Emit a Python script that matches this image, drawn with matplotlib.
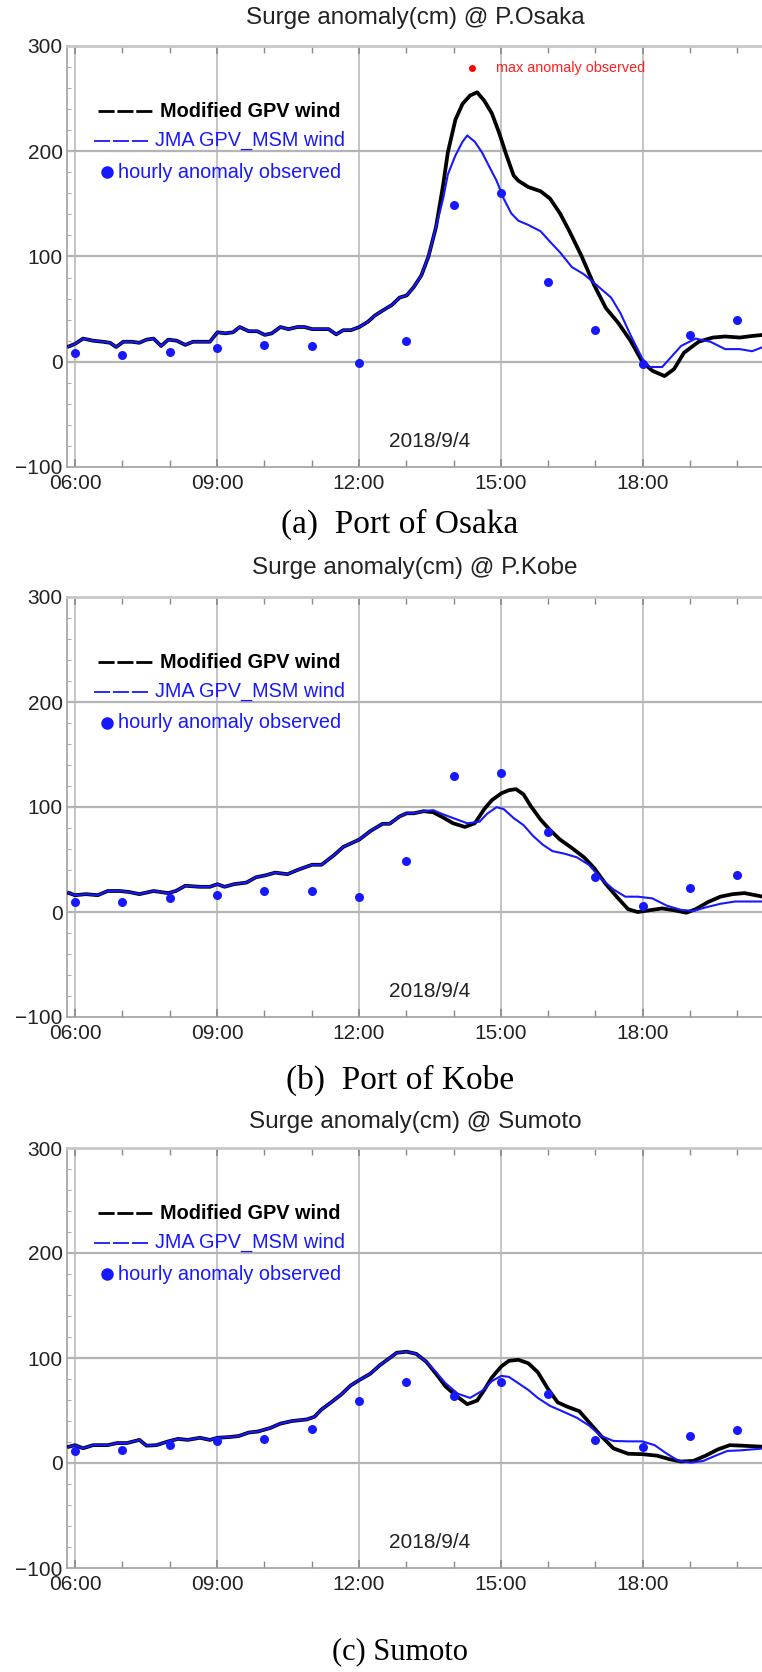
import numpy as np
import matplotlib.pyplot as plt
from matplotlib.ticker import MultipleLocator, FuncFormatter

plt.rcParams['font.family'] = ['Liberation Sans', 'DejaVu Sans']

W, H, DPI = 762, 1672, 100

# hourly observations, 06:00 .. 20:00
OBS_HOURS = list(range(6, 21))

# ——— P.Osaka ———
OSAKA_T_COMMON = [5.87, 6.00, 6.17, 6.38, 6.59, 6.74, 6.87, 7.02, 7.20, 7.36,
                  7.51, 7.66, 7.82, 7.97, 8.15, 8.33, 8.49, 8.64, 8.85, 9.01,
                  9.18, 9.34, 9.48, 9.67, 9.85, 10.01, 10.16, 10.34, 10.51, 10.70,
                  10.85, 11.01, 11.21, 11.36, 11.52, 11.67, 11.83, 12.01, 12.19, 12.34,
                  12.55, 12.70, 12.86, 13.01, 13.16, 13.32, 13.47, 13.63]
OSAKA_V_COMMON = [14.6, 17, 22, 20, 19, 18, 14, 19, 19, 18,
                  21, 22, 15, 21, 20, 16, 19, 19, 19, 28,
                  27, 28, 33, 29, 29, 25.5, 27, 33, 31, 33,
                  33, 31, 31, 31, 26, 30, 30, 33, 38, 44,
                  50, 54, 61, 63, 71, 82, 100, 128]
OSAKA_T_MOD = [13.78, 13.88, 14.04, 14.19, 14.35, 14.50, 14.65, 14.81, 14.96, 15.12,
               15.27, 15.37, 15.58, 15.84, 16.04, 16.25, 16.45, 16.71, 16.97, 17.22,
               17.48, 17.74, 17.99, 18.20, 18.46, 18.66, 18.87, 19.18, 19.48, 19.74,
               20.05, 20.31, 20.54]
OSAKA_V_MOD = [168, 199, 230, 245, 253, 256, 248, 236, 218, 196,
               177, 172, 166, 162, 155, 141, 124, 100, 73, 51,
               37, 20, 0, -8.5, -13.6, -7, 8.5, 19, 23, 24,
               23, 24.5, 25.5]
OSAKA_T_JMA = [13.78, 13.88, 14.04, 14.19, 14.29, 14.45, 14.60, 14.76, 14.91, 15.06,
               15.22, 15.37, 15.58, 15.84, 16.04, 16.25, 16.50, 16.76, 17.02, 17.33,
               17.53, 17.74, 17.99, 18.15, 18.41, 18.61, 18.81, 19.12, 19.43, 19.74,
               20.05, 20.31, 20.54]
OSAKA_V_JMA = [155, 178, 196, 209, 215, 209, 199, 185, 172, 155,
               141, 134, 130, 124, 114, 104, 90, 83, 73, 61,
               46, 25.5, 3, -5, -5, 5, 15, 22, 19, 12,
               12, 10, 14]
OSAKA_OBS = [8.5, 6, 9.5, 13, 16, 14.6, -1, 20, 149, 160.5, 76, 30.6, -1.7, 25, 40]
OSAKA_MAX_T, OSAKA_MAX_V = 14.39, 279

# ——— P.Kobe ———
KOBE_T_COMMON = [5.87, 6.00, 6.23, 6.48, 6.69, 6.95, 7.15, 7.36, 7.66, 7.97,
                 8.13, 8.33, 8.64, 8.85, 9.01, 9.16, 9.36, 9.62, 9.82, 10.03,
                 10.23, 10.49, 10.70, 11.01, 11.21, 11.47, 11.67, 12.01, 12.24, 12.50,
                 12.65, 12.86, 13.01, 13.16, 13.37]
KOBE_V_COMMON = [18, 16, 17, 16, 20, 20, 19, 17, 20, 18,
                 20, 25, 24, 24, 26.5, 24, 26.5, 28, 33, 35,
                 37.5, 36, 40, 45, 45, 54, 62, 69, 77, 84,
                 84, 91, 94, 94, 96]
KOBE_T_MOD = [13.57, 13.78, 13.99, 14.24, 14.45, 14.65, 14.81, 15.01, 15.17, 15.32,
              15.48, 15.63, 15.84, 16.04, 16.25, 16.50, 16.76, 16.97, 17.22, 17.48,
              17.69, 17.89, 18.15, 18.41, 18.66, 18.92, 19.12, 19.38, 19.64, 19.90,
              20.15, 20.54]
KOBE_V_MOD = [95, 90, 84.5, 81, 84.5, 98, 106.5, 113, 116, 117,
              112, 101, 88, 78, 69, 61, 52, 42, 26.5, 13,
              2.7, 0, 1.7, 3.4, 1.7, -0.7, 2.7, 9.5, 14.6, 17,
              18, 14.6]
KOBE_T_JMA = [13.57, 13.78, 13.99, 14.29, 14.55, 14.71, 14.91, 15.06, 15.27, 15.48,
              15.68, 15.89, 16.09, 16.35, 16.61, 16.86, 17.12, 17.38, 17.63, 17.89,
              18.20, 18.51, 18.81, 19.07, 19.33, 19.64, 19.95, 20.54]
KOBE_V_JMA = [97, 93, 89.5, 84.5, 86, 93.6, 99.8, 98, 89.5, 82.7,
              72.5, 64, 58, 55.5, 52, 45, 31.7, 21.5, 14.6, 14.6,
              13, 6, 2, 1, 4.4, 7.8, 10, 10]
KOBE_OBS = [9.5, 9.5, 13, 16.3, 19.7, 19.7, 14.6, 48.7, 130, 132, 76, 33.4, 5.4, 23, 35]

# ——— Sumoto ———
SUMOTO_T_COMMON = [5.87, 6.00, 6.17, 6.38, 6.69, 6.89, 7.10, 7.36, 7.51, 7.72,
                   7.97, 8.18, 8.38, 8.64, 8.85, 9.01, 9.26, 9.46, 9.67, 9.87,
                   10.13, 10.34, 10.59, 10.90, 11.06, 11.21, 11.42, 11.62, 11.83, 12.01,
                   12.24, 12.44, 12.65, 12.80, 13.01, 13.21, 13.42]
SUMOTO_V_COMMON = [15.5, 17, 14, 17, 17, 19, 19, 22, 16.5, 17,
                   20.6, 23, 22, 24, 22, 24, 24.7, 25.7, 29, 30,
                   33.4, 37.5, 40, 41.5, 44, 51, 58, 65, 74, 79,
                   85, 93, 100, 105, 106, 104, 96.6]
SUMOTO_T_MOD = [13.63, 13.83, 14.04, 14.29, 14.50, 14.65, 14.81, 15.01, 15.17, 15.37,
                15.58, 15.78, 15.99, 16.20, 16.40, 16.66, 16.86, 17.12, 17.38, 17.69,
                17.99, 18.30, 18.56, 18.81, 19.07, 19.33, 19.59, 19.84, 20.10, 20.54]
SUMOTO_V_MOD = [85, 73, 64.5, 56, 59.5, 69.6, 81.4, 92, 97.3, 98.3,
                95, 86.5, 71, 57.8, 53.7, 49.3, 39, 25.7, 13.9, 8.8,
                8.4, 7, 3.7, 1.4, 2, 7, 13, 17, 16.5, 15.5]
SUMOTO_T_JMA = [13.63, 13.83, 14.09, 14.35, 14.60, 14.81, 15.01, 15.17, 15.37, 15.58,
                15.78, 16.04, 16.30, 16.61, 16.86, 17.12, 17.38, 17.69, 17.99, 18.25,
                18.51, 18.76, 19.02, 19.28, 19.54, 19.79, 20.05, 20.54]
SUMOTO_V_JMA = [86.5, 76, 66, 62, 68.6, 78, 83, 82, 76, 69.6,
                62, 54.4, 49.3, 43, 35.8, 25.7, 21, 20.6, 20.6, 17,
                8.8, 2, 0.3, 2, 7, 11.5, 12, 13.8]
SUMOTO_OBS = [11.5, 12, 17, 20.6, 23, 32.4, 59.5, 77.4, 63.5, 77.4, 65.5, 22.3, 15.5, 25.7, 31.8]

TITLES = ['Surge anomaly(cm) @ P.Osaka', 'Surge anomaly(cm) @ P.Kobe',
          'Surge anomaly(cm) @ Sumoto']
CAPTIONS = ['(a)  Port of Osaka', '(b)  Port of Kobe', '(c) Sumoto']
DATE_LABEL = '2018/9/4'

# panel boxes in pixels: (top, bottom) of the plotting area, plus title / caption rows
PANELS = [
    dict(top=46, bottom=467, title_y=18, cap_y=524),
    dict(top=597, bottom=1017, title_y=568, cap_y=1080),
    dict(top=1148, bottom=1568, title_y=1122, cap_y=1652),
]
AX_LEFT = 67
XLIM = (5.83, 20.52)
YLIM = (-100, 300)

BLUE = '#1818ff'
GRID = '#b4b4b4'


def hhmm(x, pos):
    return f"{int(round(x)):02d}:00"


def draw_panel(ax, t_common, v_common, t_mod, v_mod, t_jma, v_jma, obs):
    ax.set_xlim(*XLIM)
    ax.set_ylim(*YLIM)

    # grid
    for v in (0, 100, 200):
        ax.axhline(v, color=GRID, lw=1.6, zorder=1)
    for h in (6, 9, 12, 15, 18):
        ax.axvline(h, color=GRID, lw=1.1, zorder=1)

    # model lines share the same curve before the peak
    ax.plot(t_common + t_mod, v_common + v_mod, color='black', lw=2.7,
            solid_joinstyle='round', zorder=3)
    ax.plot(t_common + t_jma, v_common + v_jma, color=BLUE, lw=1.5,
            solid_joinstyle='round', zorder=4)
    ax.plot(OBS_HOURS, obs, 'o', color=BLUE, ms=6.5, mec='none', zorder=5)

    # hand-made legend, like the original
    tr = ax.transAxes
    ax.plot([0.045, 0.124], [0.845, 0.845], color='black', lw=2,
            dashes=(5.8, 1.0), transform=tr, zorder=6)
    ax.text(0.134, 0.845, 'Modified GPV wind', transform=tr, fontsize=14.3,
            fontweight='bold', va='center', ha='left', color='black')
    ax.plot([0.039, 0.120], [0.775, 0.775], color=BLUE, lw=1.3,
            dashes=(8.9, 1.6), transform=tr, zorder=6)
    ax.text(0.127, 0.775, 'JMA GPV_MSM wind', transform=tr, fontsize=14.3,
            va='center', ha='left', color=BLUE)
    ax.plot([0.058], [0.700], 'o', color=BLUE, ms=9, mec='none', transform=tr)
    ax.text(0.073, 0.700, 'hourly anomaly observed', transform=tr, fontsize=14.3,
            va='center', ha='left', color=BLUE)

    ax.text(13.49, -76, DATE_LABEL, fontsize=15, ha='center', va='center',
            color='#222222')

    # axes styling
    ax.spines['right'].set_visible(False)
    ax.spines['top'].set_color('#c8c8c8')
    ax.spines['top'].set_linewidth(2)
    for s in ('left', 'bottom'):
        ax.spines[s].set_color('#a0a0a0')
        ax.spines[s].set_linewidth(1.2)

    ax.xaxis.set_major_locator(MultipleLocator(3))
    ax.xaxis.set_minor_locator(MultipleLocator(1))
    ax.xaxis.set_major_formatter(FuncFormatter(hhmm))
    ax.yaxis.set_major_locator(MultipleLocator(100))
    ax.yaxis.set_minor_locator(MultipleLocator(20))
    ax.tick_params(axis='x', which='both', direction='in', top=True, bottom=True,
                   color='#888888', labelsize=15, pad=5, labelcolor='#222222')
    ax.tick_params(axis='x', which='major', length=6, width=1.2)
    ax.tick_params(axis='x', which='minor', length=5, width=1.0)
    ax.tick_params(axis='y', which='major', direction='in', length=0,
                   labelsize=15, pad=3, labelcolor='#222222')
    ax.tick_params(axis='y', which='minor', direction='in', length=3,
                   width=0.8, color='#aaaaaa')
    # nudge the bottom y label up a little so it clears the 06:00 label
    ax.get_yticklabels()[0].set_verticalalignment('bottom')


def main():
    fig = plt.figure(figsize=(W / DPI, H / DPI), dpi=DPI)

    series = [
        (OSAKA_T_COMMON, OSAKA_V_COMMON, OSAKA_T_MOD, OSAKA_V_MOD,
         OSAKA_T_JMA, OSAKA_V_JMA, OSAKA_OBS),
        (KOBE_T_COMMON, KOBE_V_COMMON, KOBE_T_MOD, KOBE_V_MOD,
         KOBE_T_JMA, KOBE_V_JMA, KOBE_OBS),
        (SUMOTO_T_COMMON, SUMOTO_V_COMMON, SUMOTO_T_MOD, SUMOTO_V_MOD,
         SUMOTO_T_JMA, SUMOTO_V_JMA, SUMOTO_OBS),
    ]

    for i, (p, data) in enumerate(zip(PANELS, series)):
        ax = fig.add_axes([AX_LEFT / W, 1 - p['bottom'] / H,
                           1 - AX_LEFT / W, (p['bottom'] - p['top']) / H])
        draw_panel(ax, *data)
        if i == 0:
            ax.plot([OSAKA_MAX_T], [OSAKA_MAX_V], 'o', color='red', ms=5,
                    mec='none', zorder=6)
            ax.text(14.90, OSAKA_MAX_V, 'max anomaly observed', color='#ff2020',
                    fontsize=10.4, va='center', ha='left')
        fig.text(415 / W, 1 - p['title_y'] / H, TITLES[i], fontsize=17.5,
                 ha='center', va='center', color='#222222')
        fig.text(400 / W, 1 - p['cap_y'] / H, CAPTIONS[i],
                 fontsize=22 if i == 2 else 24,
                 family='Liberation Serif', ha='center', va='center')

    fig.savefig('out.png', dpi=DPI)


if __name__ == "__main__":
    main()
